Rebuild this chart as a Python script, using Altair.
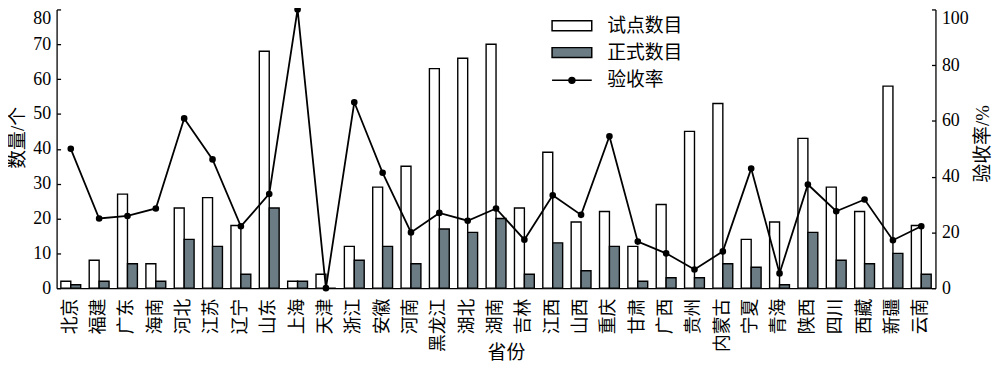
import altair as alt
import pandas as pd

provinces = ["北京", "福建", "广东", "海南", "河北", "江苏", "辽宁", "山东", "上海", "天津",
             "浙江", "安徽", "河南", "黑龙江", "湖北", "湖南", "吉林", "江西", "山西", "重庆",
             "甘肃", "广西", "贵州", "内蒙古", "宁夏", "青海", "陕西", "四川", "西藏", "新疆", "云南"]
pilot = [2, 8, 27, 7, 23, 26, 18, 68, 2, 4,
         12, 29, 35, 63, 66, 70, 23, 39, 19, 22,
         12, 24, 45, 53, 14, 19, 43, 29, 22, 58, 18]
formal = [1, 2, 7, 2, 14, 12, 4, 23, 2, 0,
          8, 12, 7, 17, 16, 20, 4, 13, 5, 12,
          2, 3, 3, 7, 6, 1, 16, 8, 7, 10, 4]
rate = [50, 25, 25.9, 28.6, 60.9, 46.2, 22.2, 33.8, 100, 0,
        66.7, 41.4, 20, 27, 24.2, 28.6, 17.4, 33.3, 26.3, 54.5,
        16.7, 12.5, 6.7, 13.2, 42.9, 5.3, 37.2, 27.6, 31.8, 17.2, 22.2]
series_names = ["试点数目", "正式数目"]
line_name = "验收率"

FONT = "'Liberation Serif', 'Noto Sans CJK SC'"

bars_df = pd.DataFrame(
    [{"省份": p, "series": series_names[0], "v": a} for p, a in zip(provinces, pilot)]
    + [{"省份": p, "series": series_names[1], "v": b} for p, b in zip(provinces, formal)]
)
line_df = pd.DataFrame({"省份": provinces, "rate": rate, "s": [line_name] * len(provinces)})

x_enc = alt.X(
    "省份:N",
    sort=provinces,
    scale=alt.Scale(paddingInner=0.3, paddingOuter=0.15),
    axis=alt.Axis(
        title="省份", labelAngle=-90, labelFontSize=18, labelPadding=10, ticks=False,
        titleFontSize=19, titleFontWeight="normal", titleX=453, titleY=65,
        titleBaseline="middle", titleAlign="center",
        domainColor="black", domainWidth=1.3, labelColor="black", titleColor="black",
    ),
)

bars = alt.Chart(bars_df).mark_bar(stroke="black", strokeWidth=1.4).encode(
    x=x_enc,
    xOffset=alt.XOffset("series:N", sort=series_names,
                        scale=alt.Scale(domain=series_names, paddingInner=0, paddingOuter=0)),
    y=alt.Y(
        "v:Q",
        scale=alt.Scale(domain=[0, 80]),
        axis=alt.Axis(
            title="数量/个", values=list(range(0, 81, 10)), orient="left",
            tickSize=alt.ExprRef("-4"), tickColor="black", tickWidth=1.3,
            labelPadding=10, labelFontSize=18, grid=False,
            labelBaseline={"condition": {"test": "datum.value == 80", "value": "top"}, "value": "middle"},
            titleFontSize=19, titleFontWeight="normal", titleAngle=270,
            titleX=-39, titleY=129, titleAlign="center", titleBaseline="middle",
            domainColor="black", domainWidth=1.3, labelColor="black", titleColor="black",
        ),
    ),
    fill=alt.Fill(
        "series:N",
        scale=alt.Scale(domain=series_names, range=["white", "#6b7c85"]),
        legend=alt.Legend(
            title=None, orient="none", legendX=510, legendY=7,
            symbolType="M-4,-1H4V1H-4Z", symbolSize=100,
            symbolStrokeColor="black", symbolStrokeWidth=1.5,
            labelFontSize=19, labelOffset=26, rowPadding=7, padding=0,
            labelColor="black",
        ),
    ),
)

line = alt.Chart(line_df).mark_line(
    color="black", strokeWidth=1.8,
    point=alt.OverlayMarkDef(filled=True, fill="black", size=22, opacity=1),
).encode(
    x=alt.X("省份:N", sort=provinces),
    y=alt.Y(
        "rate:Q",
        scale=alt.Scale(domain=[0, 100]),
        axis=alt.Axis(
            title="验收率/%", values=list(range(0, 101, 20)), orient="right",
            tickSize=alt.ExprRef("-4"), tickColor="black", tickWidth=1.3,
            labelPadding=10, labelFontSize=18, grid=False,
            labelBaseline={"condition": {"test": "datum.value == 100", "value": "top"}, "value": "middle"},
            titleFontSize=19, titleFontWeight="normal", titleAngle=270,
            titleX=47, titleY=135, titleAlign="center", titleBaseline="middle",
            domainColor="black", domainWidth=1.3, labelColor="black", titleColor="black",
        ),
    ),
    stroke=alt.Stroke(
        "s:N",
        scale=alt.Scale(domain=[line_name], range=["black"]),
        legend=alt.Legend(
            title=None, orient="none", legendX=510, legendY=62,
            symbolType="M-4,0H4M-0.6,0A0.6,0.6 0 1,0 0.6,0A0.6,0.6 0 1,0 -0.6,0Z",
            symbolSize=100, symbolStrokeColor="black", symbolFillColor="black",
            symbolStrokeWidth=1.5, labelFontSize=19, labelOffset=26, padding=0,
            labelColor="black",
        ),
    ),
)

chart = (
    alt.layer(bars, line)
    .resolve_scale(y="independent", fill="independent", stroke="independent")
    .properties(
        width=886, height=281,
        autosize=alt.AutoSizeParams(type="none"),
        padding={"left": 49, "top": 0, "right": 57, "bottom": 75},
    )
    .configure(font=FONT)
    .configure_view(stroke=None)
    .configure_axis(labelFont=FONT, titleFont=FONT)
    .configure_legend(labelFont=FONT)
)

chart.save("out.html", embed_options={"renderer": "svg", "actions": False})
